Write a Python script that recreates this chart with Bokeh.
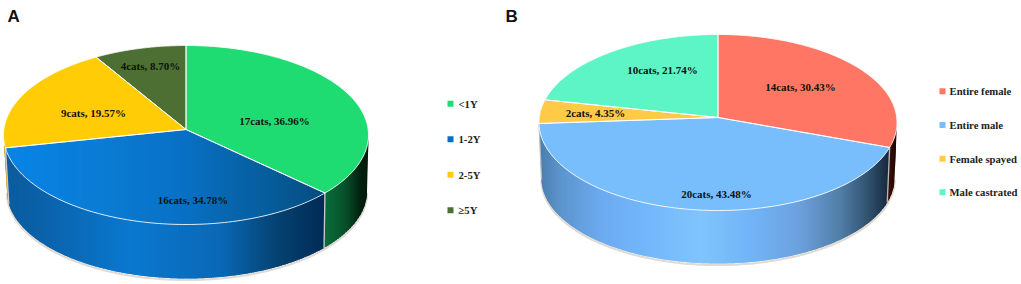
import numpy as np
from bokeh.plotting import figure
from bokeh.embed import file_html
from bokeh.resources import INLINE
from bokeh.core.properties import value

# ---- data ----
total_cats = 46
counts_a = [17, 16, 9, 4]
names_a = ["<1Y", "1-2Y", "2-5Y", "\u22655Y"]
counts_b = [14, 20, 2, 10]
names_b = ["Entire female", "Entire male", "Female spayed", "Male castrated"]

# ---- styles / layout ----
W, H = 1021, 284
top_a = [["#1edc72"], None, ["#ffcc05"], ["#4d6f33"]]
top_b = [["#ff7764"], ["#78bdfc"], ["#ffca45"], ["#5df5c5"]]
blue_top_a = [(5, "#0884e6"), (100, "#0a7cd4"), (185, "#0870c4"), (260, "#075f9f"), (325, "#054c80")]
walls_a = [
    [(324, "#0a6e3a"), (345, "#07502a"), (360, "#02200f"), (368, "#001a08")],
    [(5, "#0c5c9c"), (30, "#0a5fa5"), (130, "#0a78cf"), (220, "#0a68b5"), (280, "#05406f"), (325, "#012a55")],
    [(0, "#c89000"), (20, "#c89000")],
    [(0, "#334a22"), (20, "#334a22")],
]
walls_b = [
    [(888, "#3c1008"), (897, "#1a0503")],
    [(538, "#4a7cab"), (560, "#5c94cc"), (600, "#6caaef"), (640, "#73b5fb"), (700, "#80c4fc"),
     (750, "#72b4f8"), (800, "#6ca0dc"), (840, "#507ea6"), (870, "#2e4e6b"), (889, "#16263a")],
    [(530, "#b08a30"), (545, "#b08a30")],
    [(530, "#3a9a7c"), (545, "#3a9a7c")],
]
panel_a = dict(cx=185.5, cy=134.5, rx=182.5, ry=89.5, apex=129, cx2=186.5, cy2=191, rx2=180, ry2=87,
               counts=counts_a, names=names_a, tops=top_a, walls=walls_a, grad={1: blue_top_a},
               lab_x=[274, 192.5, 93, 150], lab_y=[120, 199.5, 112, 65.5],
               sq_x=450, txt_x=458, leg_y=[104, 139.5, 175, 210.5], edge="#c8ccd0")
panel_b = dict(cx=717.5, cy=122, rx=179, ry=88, apex=117, cx2=717.5, cy2=178, rx2=176.5, ry2=85,
               counts=counts_b, names=names_b, tops=top_b, walls=walls_b, grad={},
               lab_x=[800, 716, 595, 662], lab_y=[86, 193, 112, 69.5],
               sq_x=942, txt_x=949, leg_y=[91.5, 125.3, 159, 192.5], edge="#b8bcc0")


def hex2rgb(h):
    return np.array([int(h[i:i + 2], 16) for i in (1, 3, 5)], float)


def grad_color(stops, x):
    xs = [s[0] for s in stops]
    cs = np.array([hex2rgb(s[1]) for s in stops])
    rgb = [int(round(np.interp(x, xs, cs[:, k]))) for k in range(3)]
    return "#%02x%02x%02x" % tuple(rgb)


def clip_band(poly, x0, x1):
    def clip(points, inside, cut):
        out = []
        for i in range(len(points)):
            a, b = points[i], points[(i + 1) % len(points)]
            ia, ib = inside(a), inside(b)
            if ia:
                out.append(a)
            if ia != ib:
                t = (cut - a[0]) / (b[0] - a[0])
                out.append((cut, a[1] + t * (b[1] - a[1])))
        return out
    p1 = clip(poly, lambda q: q[0] >= x0, x0)
    if not p1:
        return []
    return clip(p1, lambda q: q[0] <= x1, x1)


def strips(poly, stops, store):
    # Overlapping vertical bands, painted left to right, so no seams show.
    xs, ys, cols = store
    xmin, xmax = min(q[0] for q in poly), max(q[0] for q in poly)
    for x0 in np.arange(np.floor(xmin), xmax, 2.0):
        c = clip_band(poly, x0, x0 + 3.5)
        if len(c) >= 3:
            xs.append([q[0] for q in c])
            ys.append([q[1] for q in c])
            cols.append(grad_color(stops, x0 + 1))


p = figure(width=W, height=H, x_range=(0, W), y_range=(H, 0), output_backend="svg",
           toolbar_location=None, min_border=0, outline_line_color=None)
p.axis.visible = False
p.grid.visible = False
p.background_fill_color = "white"
p.border_fill_color = "white"


def draw(P):
    a = (P["apex"] - P["cy"]) / P["ry"]
    s = np.sqrt(1 - a * a)

    def unit(th):
        X, Y = np.sin(th), -np.cos(th)
        w = 1 + a * Y
        return X * s / w, (Y + a) / w

    def rim(th):
        u, v = unit(th)
        return P["cx"] + P["rx"] * u, P["cy"] + P["ry"] * v

    def low(th):
        u, v = unit(th)
        return P["cx2"] + P["rx2"] * u, P["cy2"] + P["ry2"] * v

    fr = np.cumsum([0] + P["counts"]) / sum(P["counts"]) * 2 * np.pi
    vis0, vis1 = np.arccos(a), 2 * np.pi - np.arccos(a)

    # soft ground shadow under the wall
    th = np.linspace(vis0, vis1, 200)
    lx, ly = low(th)
    p.line(lx, ly + 1.5, line_color="#ddd6cf", line_width=2.2, line_alpha=0.9)

    # side wall
    for i, stops in enumerate(P["walls"]):
        t0, t1 = max(fr[i], vis0), min(fr[i + 1], vis1)
        if t1 <= t0:
            continue
        th = np.linspace(t0, t1, 120)
        rx_, ry_ = rim(th)
        bx, by = low(th)
        poly = list(zip(rx_, ry_)) + list(zip(bx[::-1], by[::-1]))
        store = ([], [], [])
        strips(poly, stops, store)
        p.patches(store[0], store[1], fill_color=store[2], line_color=None)

    # wall seams between visible slices
    for i in range(1, len(fr) - 1):
        if vis0 < fr[i] < vis1:
            x0, y0 = rim(fr[i])
            x1, y1 = low(fr[i])
            p.line([x0, x1], [y0, y1], line_color=P["edge"], line_width=1.3)

    # top face
    for i in range(len(P["counts"])):
        th = np.linspace(fr[i], fr[i + 1], 160)
        ex, ey = rim(th)
        poly = [(P["cx"], P["apex"])] + list(zip(ex, ey))
        if i in P["grad"]:
            store = ([], [], [])
            strips(poly, P["grad"][i], store)
            p.patches(store[0], store[1], fill_color=store[2], line_color=None)
        else:
            p.patch([q[0] for q in poly], [q[1] for q in poly], fill_color=P["tops"][i][0], line_color=None)
    for i in range(len(P["counts"])):
        th = np.linspace(fr[i], fr[i + 1], 160)
        ex, ey = rim(th)
        p.line([P["cx"]] + list(ex) + [P["cx"]], [P["apex"]] + list(ey) + [P["apex"]],
               line_color="white", line_width=1.0, line_alpha=0.85)

    # labels
    labels = [f"{c}cats, {c / total_cats * 100:.2f}%" for c in P["counts"]]
    p.text(P["lab_x"], P["lab_y"], text=labels, text_font=value("Liberation Serif"), text_font_style="bold",
           text_font_size="11px", text_color="#111111", text_align="center", text_baseline="middle")

    # legend
    leg_cols = [t[0] if t else P["grad"][i][2][1] for i, t in enumerate(P["tops"])]
    for y, c in zip(P["leg_y"], leg_cols):
        p.rect([P["sq_x"]], [y - 0.8], width=6, height=6, fill_color=c, line_color=None)
    p.text([P["txt_x"]] * 4, [y - 1 for y in P["leg_y"]], text=P["names"], text_font=value("Liberation Serif"),
           text_font_style="bold", text_font_size="10.7px", text_color="#222222", text_baseline="middle")


draw(panel_a)
draw(panel_b)

p.text([7, 505], [15.5, 15.5], text=["A", "B"], text_font=value("Liberation Sans"), text_font_style="bold",
       text_font_size="17px", text_color="#111111", text_baseline="middle")

open("out.html", "w").write(file_html(p, INLINE))
